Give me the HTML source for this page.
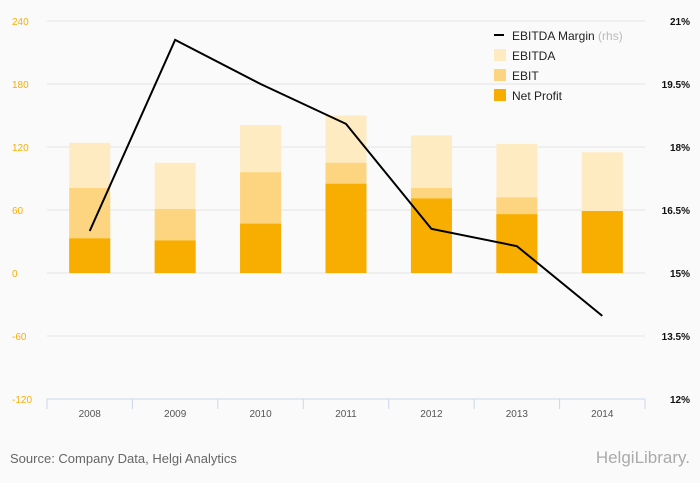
<!DOCTYPE html>
<html><head><meta charset="utf-8"><style>
html,body{margin:0;background:#fafafa;font-family:"Liberation Sans",sans-serif;overflow:hidden;width:700px;height:483px}
svg{display:block}
svg text{font-family:"Liberation Sans",sans-serif}
</style></head><body>
<svg id="c" width="700" height="483" xmlns="http://www.w3.org/2000/svg">
<rect width="700" height="483" fill="#fafafa"/>
<g id="grid"></g><g id="bars"></g><g id="line"></g><g id="axes"></g>
<g>
<line x1="494" y1="35" x2="504" y2="35" stroke="#000" stroke-width="2"/>
<text x="512" y="40" font-size="12" fill="#222">EBITDA Margin <tspan fill="#bbb">(rhs)</tspan></text>
<rect x="494" y="49" width="12" height="12" fill="#ffebc2"/>
<text x="512" y="60" font-size="12" fill="#222">EBITDA</text>
<rect x="494" y="69" width="12" height="12" fill="#fdd581"/>
<text x="512" y="80" font-size="12" fill="#222">EBIT</text>
<rect x="494" y="89" width="12" height="12" fill="#f7ae00"/>
<text x="512" y="100" font-size="12" fill="#222">Net Profit</text>
</g>
<text x="10" y="463" font-size="13" fill="#666">Source: Company Data, Helgi Analytics</text>
<text x="690" y="463" font-size="17" fill="#aaa" text-anchor="end">HelgiLibrary.</text>
</svg>
<script>
const years=["2008","2009","2010","2011","2012","2013","2014"];
const ebitda=[124,105,141,150,131,123,115];
const ebit=[81,61,96,105,81,72,59];
const netProfit=[33,31,47,85,71,56,59];
const margin=[16.0,20.55,19.5,18.55,16.05,15.64,13.98];
const leftTicks=[240,180,120,60,0,-60,-120];
const rightTicks=["21%","19.5%","18%","16.5%","15%","13.5%","12%"];
const rightVals=[21,19.5,18,16.5,15,13.5,12];
const NS="http://www.w3.org/2000/svg";
const yTop=21,yBot=399,xLeft=47,xRight=645;
const yL=v=>yTop+(240-v)/360*(yBot-yTop);
const yR=v=>yTop+(21-v)/9*(yBot-yTop);
const band=(xRight-xLeft)/years.length;
const xC=i=>xLeft+band*(i+0.5);
function mk(p,t,a){const e=document.createElementNS(NS,t);for(const k in a)e.setAttribute(k,a[k]);document.getElementById(p).appendChild(e);return e;}
leftTicks.forEach((t,i)=>{
 if(t!==-120){const g=mk("grid","line",{x1:xLeft,x2:xRight,y1:yL(t),y2:yL(t),stroke:"#e4e4e4"});
 
 }
 const l=mk("axes","text",{x:12,y:yL(t)+4,"font-size":10,fill:"#f7ae00"});l.textContent=t;
 
 
});
rightVals.forEach((v,i)=>{
 const l=mk("axes","text",{x:690,y:yR(v)+4,"font-size":10,fill:"#111","text-anchor":"end","font-weight":"bold"});l.textContent=rightTicks[i];
 
 
});
const ax=mk("axes","line",{x1:xLeft,x2:xRight,y1:yBot,y2:yBot,stroke:"#ccd6eb"});


for(let i=0;i<=years.length;i++){const t=mk("axes","line",{x1:xLeft+band*i,x2:xLeft+band*i,y1:yBot,y2:yBot+10,stroke:"#ccd6eb"});
 
 }
const bw=41;
years.forEach((y,i)=>{
 const l=mk("axes","text",{x:xC(i),y:417,"font-size":10,fill:"#555","text-anchor":"middle"});l.textContent=y;
 
 
 [[ebitda,"#ffebc2","bar-ebitda"],[ebit,"#fdd581","bar-ebit"],[netProfit,"#f7ae00","bar-net-profit"]].forEach(([arr,c,n])=>{
  const v=arr[i];const r=mk("bars","rect",{x:xC(i)-bw/2,y:Math.min(yL(v),yL(0)),width:bw,height:Math.abs(yL(v)-yL(0)),fill:c});
  
  
 });
});
const p=mk("line","polyline",{points:margin.map((m,i)=>xC(i)+","+yR(m)).join(" "),fill:"none",stroke:"#000","stroke-width":2});


</script>
</body></html>
